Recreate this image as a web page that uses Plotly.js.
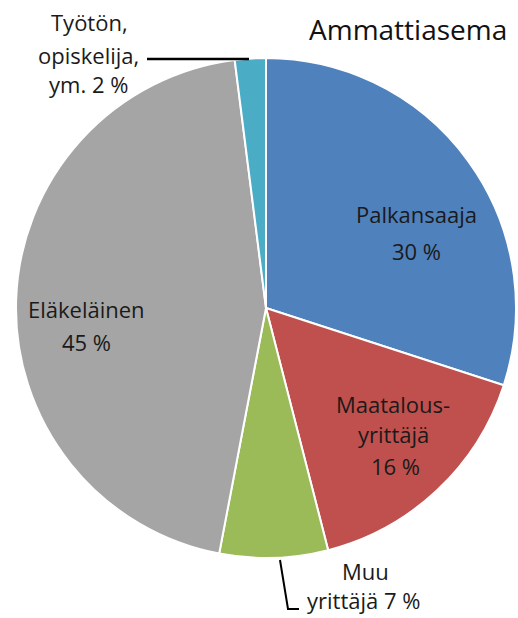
<!DOCTYPE html>
<html><head><meta charset="utf-8">
<script src="https://cdn.plot.ly/plotly-3.0.1.min.js"></script>
<style>html,body{margin:0;padding:0;background:#fff}</style>
</head><body><div id="chart" style="width:518px;height:618px"></div>
<script>
const categories = ["Palkansaaja", "Maatalous-yrittäjä", "Muu yrittäjä", "Eläkeläinen", "Työtön, opiskelija, ym."];
const values = [30, 16, 7, 45, 2];
const colors = ["#4F81BD", "#C0504D", "#9BBB59", "#A5A5A5", "#4BACC6"];
const labelLines = [
  ["Palkansaaja", "30 %"],
  ["Maatalous-", "yrittäjä", "16 %"],
  ["Muu", "yrittäjä 7 %"],
  ["Eläkeläinen", "45 %"],
  ["Työtön,", "opiskelija,", "ym. 2 %"]
];
const labelPos = [
  [[416, 214], [416, 251]],
  [[393, 404], [393, 434], [395, 466]],
  [[365, 571], [363, 600]],
  [[86, 309], [86, 342]],
  [[89, 22], [88, 55], [88, 84]]
];
const fnt = {family: "Open Sans, Noto Sans, sans-serif", size: 22, color: "#1a1a1a"};
const W = 518, H = 618;
const annotations = [];
labelLines.forEach((lines, i) => lines.forEach((t, j) => annotations.push({
  text: t, x: labelPos[i][j][0] / W, y: 1 - labelPos[i][j][1] / H, xref: "paper", yref: "paper",
  showarrow: false, font: fnt, xanchor: "center", yanchor: "middle"
})));
annotations.push({text: "Ammattiasema", x: 408 / W, y: 1 - 29 / H, xref: "paper", yref: "paper",
  showarrow: false, font: {family: "Open Sans, Noto Sans, sans-serif", size: 28, color: "#111"},
  xanchor: "center", yanchor: "middle"});
const shapes = [
  {type: "line", xref: "paper", yref: "paper", x0: 147 / W, y0: 1 - 59 / H, x1: 249 / W, y1: 1 - 59 / H, line: {color: "#000", width: 2.5}},
  {type: "path", xref: "paper", yref: "paper",
   path: `M ${280 / W} ${1 - 560 / H} L ${288 / W} ${1 - 609 / H} L ${299 / W} ${1 - 609 / H}`,
   line: {color: "#000", width: 2}}
];
const data = [{
  type: "pie", labels: categories, values: values, sort: false, direction: "clockwise", rotation: 0,
  marker: {colors: colors, line: {color: "#fff", width: 2}}, textinfo: "none", hoverinfo: "none",
  domain: {x: [16 / W, 516 / W], y: [1 - 558 / H, 1 - 58 / H]}
}];
const layout = {width: W, height: H, margin: {l: 0, r: 0, t: 0, b: 0}, showlegend: false,
  paper_bgcolor: "#fff", annotations: annotations, shapes: shapes};
Plotly.newPlot("chart", data, layout, {displayModeBar: false, staticPlot: true});
</script></body></html>
